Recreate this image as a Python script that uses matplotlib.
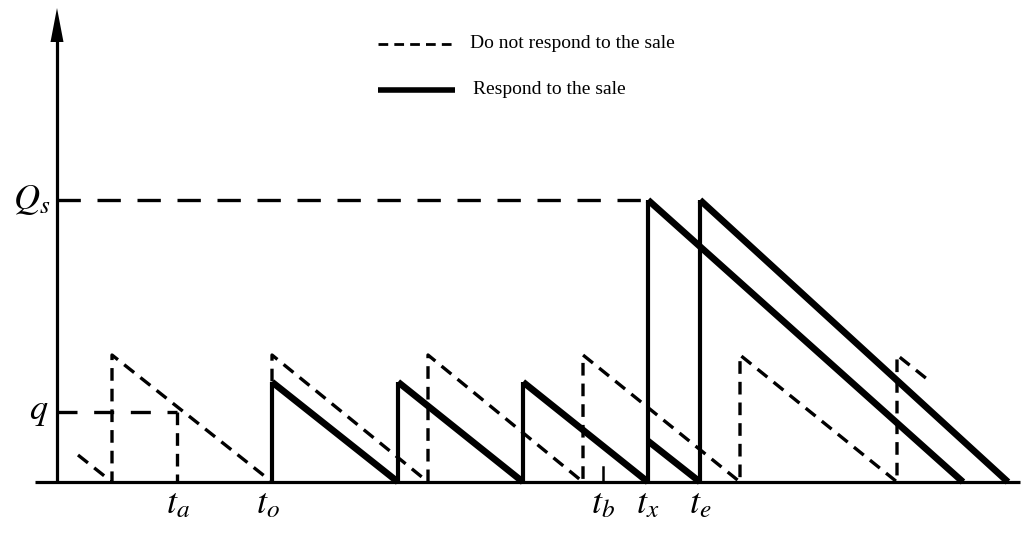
import matplotlib
matplotlib.use("Agg")
import matplotlib.pyplot as plt
from matplotlib.patches import Polygon

plt.rcParams['font.family'] = ['Liberation Serif', 'DejaVu Serif']
plt.rcParams['mathtext.fontset'] = 'stix'

# Inventory level over time (time axis starts at the vertical axis).
# Policy that ignores the sale: regular orders, peak level Q_peak.
no_resp_t = [21, 55, 55, 215, 215, 371, 371, 526, 526, 683, 683, 840, 840, 875]
no_resp_q = [27, 0, 127, 0, 127, 0, 127, 0, 127, 0, 127, 0, 127, 99]

# Policy that responds to the sale: buys Q_s at t_x
resp_t = [215, 215, 341, 341, 466, 466, 591, 591, 906]
resp_q = [0, 100, 0, 100, 0, 100, 0, 282, 0]

# Alternative: buys Q_s at t_e
resp_alt_t = [591, 643, 643, 951]
resp_alt_q = [41, 0, 282, 0]

# Reference levels and marked times
Q_s = 282
q_level = 70
t_a = 120
t_o = 215
t_b = 546
t_x = 591
t_e = 643
time_labels = ['$t_a$', '$t_o$', '$t_b$', '$t_x$', '$t_e$']
time_label_pos = [121, 211, 546, 591, 643]

fig = plt.figure(figsize=(10.26, 5.53), dpi=100)
ax = fig.add_axes([0, 0, 1, 1])
ax.set_xlim(-57, 969)
ax.set_ylim(-71, 482)
ax.axis('off')

# axes with arrow on the vertical one
ax.plot([-22, 963], [0, 0], color='black', lw=2.3, solid_capstyle='butt')
ax.plot([0, 0], [0, 445], color='black', lw=2.3, solid_capstyle='butt')
ax.add_patch(Polygon([[-6.5, 440], [6.5, 440], [0, 474]], closed=True,
                     color='black', lw=0))

dash_style = (0, (3.8, 2.4))


def draw_solid(ts, qs):
    for i in range(len(ts) - 1):
        vertical = ts[i] == ts[i + 1]
        ax.plot(ts[i:i + 2], qs[i:i + 2], color='black',
                lw=3.0 if vertical else 4.8, solid_capstyle='butt',
                solid_joinstyle='miter')


# no-response policy (dashed)
ax.plot(no_resp_t, no_resp_q, color='black', lw=2.4, linestyle=dash_style)

# response policies (solid)
draw_solid(resp_t, resp_q)
draw_solid(resp_alt_t, resp_alt_q)

# reference levels
ax.plot([0, t_x], [Q_s, Q_s], color='black', lw=2.4, linestyle=(0, (7, 5)))
ax.plot([0, t_a], [q_level, q_level], color='black', lw=2.4,
        linestyle=(0, (6, 5)))
ax.plot([t_a, t_a], [q_level, 0], color='black', lw=2.4,
        linestyle=dash_style)

# small tick at t_b
ax.plot([t_b, t_b], [0, 15], color='black', lw=1.8)

# axis labels
ax.text(-7, Q_s, '$Q_s$', fontsize=26, ha='right', va='center')
ax.text(-9, q_level, '$q$', fontsize=26, ha='right', va='center')
for lab, x in zip(time_labels, time_label_pos):
    ax.text(x, -6, lab, fontsize=26, ha='center', va='top')

# legend
ax.plot([321, 398], [438, 438], color='black', lw=2.0,
        linestyle=(0, (3.5, 2.2)))
ax.text(413, 438, 'Do not respond to the sale', fontsize=14,
        ha='left', va='center')
ax.plot([321, 398], [392, 392], color='black', lw=4.0,
        solid_capstyle='butt')
ax.text(416, 392, 'Respond to the sale', fontsize=14,
        ha='left', va='center')

fig.savefig('out.png', dpi=100)
